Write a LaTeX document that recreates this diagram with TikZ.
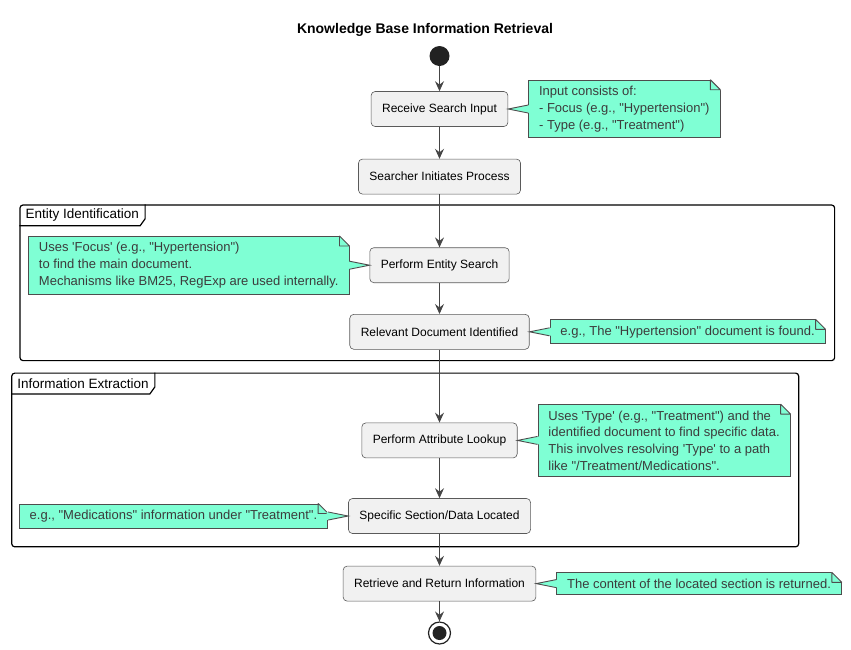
\documentclass[tikz,border=0pt]{standalone}
\usepackage{fontspec}
\setmainfont{Liberation Sans}[Ligatures=TeXOff]
\usetikzlibrary{positioning,fit,arrows.meta}

\definecolor{boxfill}{HTML}{F1F1F1}
\definecolor{boxline}{HTML}{5A5A5A}
\definecolor{notefill}{HTML}{7FFFD4}
\definecolor{noteline}{HTML}{4D4D4D}
\definecolor{notetext}{HTML}{3C3C3C}
\definecolor{flowline}{HTML}{454545}
\definecolor{dotfill}{HTML}{222222}

\tikzset{
  action/.style={draw=boxline, fill=boxfill, rounded corners=4pt, line width=0.6pt,
    minimum height=35pt, inner xsep=11pt, font=\fontsize{12}{14}\selectfont},
  note/.style={draw=noteline, fill=notefill, line width=0.9pt, align=left,
    inner xsep=10.5pt, inner ysep=6pt, text=notetext, font=\fontsize{13}{16.7}\selectfont},
  flow/.style={draw=flowline, line width=0.9pt, -{Stealth[length=10pt,width=9pt,inset=3.5pt]}},
  groupframe/.style={draw=black, line width=1.2pt, rounded corners=3pt, inner sep=0pt},
  grouplabel/.style={anchor=north west, inner xsep=6pt, inner ysep=0pt, minimum height=21pt,
    font=\fontsize{13.5}{16}\selectfont}
}

\begin{document}
\begin{tikzpicture}[x=1pt,y=1pt]
  \useasboundingbox (0,0) rectangle (851,-649);

  %Title
  \node[font=\fontsize{14}{16}\selectfont\bfseries] (title) at (425,-30) {Knowledge Base Information Retrieval};

  %Define the activities
  \node[circle, fill=dotfill, minimum size=20pt, inner sep=0pt] (start) at (439.5,-56) {};
  \node[action, below=25pt of start] (recv) {Receive Search Input};
  \node[action, below=32pt of recv] (init) {Searcher Initiates Process};
  \node[action, below=53pt of init] (entity) {Perform Entity Search};
  \node[action, below=31pt of entity] (found) {Relevant Document Identified};
  \node[action, below=73pt of found] (lookup) {Perform Attribute Lookup};
  \node[action, below=40pt of lookup] (located) {Specific Section/Data Located};
  \node[action, below=32pt of located] (retrieve) {Retrieve and Return Information};
  \node[circle, draw=dotfill, line width=1.2pt, minimum size=22pt, inner sep=0pt, below=20pt of retrieve] (stop) {};
  \node[circle, fill=dotfill, minimum size=14pt, inner sep=0pt] (stopdot) at (stop) {};

  %Define the notes
  \node[note, right=20pt of recv] (inputnote) {Input consists of:\\- Focus (e.g., "Hypertension")\\- Type (e.g., "Treatment")};
  \node[note, left=20pt of entity] (entitynote) {Uses 'Focus' (e.g., "Hypertension")\\to find the main document.\\Mechanisms like BM25, RegExp are used internally.};
  \node[note, right=20pt of found] (foundnote) {e.g., The "Hypertension" document is found.};
  \node[note, right=20pt of lookup] (lookupnote) {Uses 'Type' (e.g., "Treatment") and the\\identified document to find specific data.\\This involves resolving 'Type' to a path\\like "/Treatment/Medications".};
  \node[note, left=20pt of located] (locatednote) {e.g., "Medications" information under "Treatment".};
  \node[note, right=20pt of retrieve] (returnnote) {The content of the located section is returned.};

  % Folded corners and pointers of the notes
  \foreach \n in {inputnote,entitynote,foundnote,lookupnote,locatednote,returnnote} {
    \fill[white] ([shift={(-11pt,1pt)}]\n.north east) -- ([shift={(1pt,1pt)}]\n.north east)
      -- ([shift={(1pt,-11pt)}]\n.north east) -- cycle;
    \draw[noteline, line width=0.9pt, line join=bevel] ([xshift=-10pt]\n.north east) -- ([yshift=-10pt]\n.north east)
      -- ([shift={(-10pt,-10pt)}]\n.north east) -- cycle;
  }
  \foreach \n/\s/\d/\b/\a in {inputnote/west/1/recv/east, entitynote/east/-1/entity/west,
      foundnote/west/1/found/east, lookupnote/west/1/lookup/east,
      locatednote/east/-1/located/west, returnnote/west/1/retrieve/east} {
    \fill[notefill] ([shift={(\d*1.6pt,4pt)}]\n.\s) -- (\b.\a) -- ([shift={(\d*1.6pt,-4pt)}]\n.\s) -- cycle;
    \draw[noteline, line width=0.9pt] ([yshift=4pt]\n.\s) -- (\b.\a) -- ([yshift=-4pt]\n.\s);
  }

  % Partitions
  \node[groupframe, fit={([xshift=-8pt]entitynote.west) ([xshift=9pt]foundnote.east)
    ([yshift=31pt]entitynote.north) ([yshift=-11pt]found.south)}] (entityframe) {};
  \node[grouplabel] (entitylabel) at (entityframe.north west) {Entity Identification};
  \draw[line width=1.2pt] (entitylabel.south west) -- ([xshift=-5pt]entitylabel.south east)
    -- ([yshift=7pt]entitylabel.south east) -- (entitylabel.north east);

  \node[groupframe, fit={([xshift=-7pt]locatednote.west) ([xshift=8pt]lookupnote.east)
    ([yshift=31pt]lookupnote.north) ([yshift=-13pt]located.south)}] (infoframe) {};
  \node[grouplabel] (infolabel) at (infoframe.north west) {Information Extraction};
  \draw[line width=1.2pt] (infolabel.south west) -- ([xshift=-5pt]infolabel.south east)
    -- ([yshift=7pt]infolabel.south east) -- (infolabel.north east);

  % Connect the activities
  \draw[flow] (start) -- (recv);
  \draw[flow] (recv) -- (init);
  \draw[flow] (init) -- (entity);
  \draw[flow] (entity) -- (found);
  \draw[flow] (found) -- (lookup);
  \draw[flow] (lookup) -- (located);
  \draw[flow] (located) -- (retrieve);
  \draw[flow] (retrieve) -- (stop);

\end{tikzpicture}
\end{document}
